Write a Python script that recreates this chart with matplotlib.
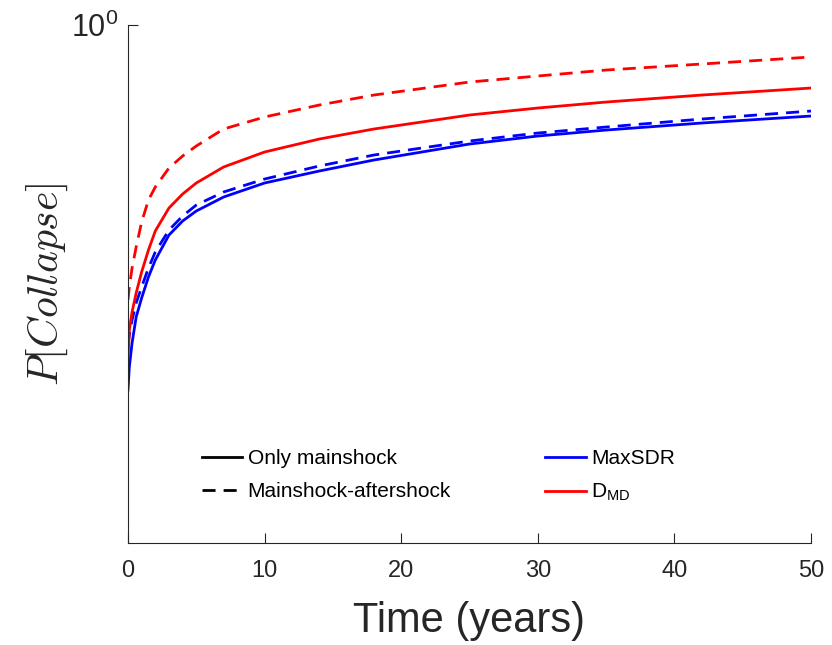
import matplotlib
matplotlib.use("Agg")
import matplotlib.pyplot as plt
from matplotlib.lines import Line2D

plt.rcParams['font.family'] = ['Liberation Sans', 'DejaVu Sans']
plt.rcParams['mathtext.fontset'] = 'cm'

# collapse probability vs. time for each damage measure
time_years = [0, 0.1, 0.3, 0.6, 1, 1.5, 2, 3, 4, 5, 7, 10, 14, 18, 25, 30, 35, 42, 50]
maxsdr_main = [0.3217, 0.3456, 0.3723, 0.4036, 0.4282, 0.4571, 0.4818, 0.5207, 0.5439, 0.5611,
               0.5860, 0.6121, 0.6353, 0.6574, 0.6909, 0.7083, 0.7216, 0.7375, 0.7537]
maxsdr_ms_as = [0.3700, 0.3817, 0.3999, 0.4216, 0.4431, 0.4700, 0.4940, 0.5289, 0.5524, 0.5716,
                0.5952, 0.6197, 0.6453, 0.6677, 0.6974, 0.7149, 0.7284, 0.7467, 0.7655]
dmd_main = [0.3531, 0.3876, 0.4099, 0.4349, 0.4642, 0.4970, 0.5273, 0.5663, 0.5915, 0.6121,
            0.6433, 0.6740, 0.7017, 0.7239, 0.7561, 0.7727, 0.7872, 0.8045, 0.8222]
dmd_ms_as = [0.4255, 0.4431, 0.4700, 0.5017, 0.5422, 0.5806, 0.6045, 0.6413, 0.6656, 0.6867,
             0.7239, 0.7514, 0.7799, 0.8045, 0.8377, 0.8535, 0.8695, 0.8859, 0.9054]

x_ticks = [0, 10, 20, 30, 40, 50]

axis_color = '#262626'
blue = '#0000ff'
red = '#ff0000'
lw = 2.0
dashed = (0, (4.7, 2.9))

fig = plt.figure(figsize=(8.32, 6.45), dpi=100)
ax = fig.add_axes([0.1538, 0.1581, 0.8210, 0.8031])

ax.plot(time_years, maxsdr_main, color=blue, lw=lw)
ax.plot(time_years, maxsdr_ms_as, color=blue, lw=lw, ls=dashed)
ax.plot(time_years, dmd_main, color=red, lw=lw)
ax.plot(time_years, dmd_ms_as, color=red, lw=lw, ls=dashed)

ax.set_yscale('log')
ax.set_xlim(0, 50)
ax.set_ylim(0.2, 1.0)
ax.set_xticks(x_ticks)
ax.set_xticklabels([str(t) for t in x_ticks])
ax.set_yticks([1.0])
ax.set_yticklabels([r'$\mathregular{10^0}$'])
ax.yaxis.set_minor_locator(matplotlib.ticker.NullLocator())

for side in ['top', 'right']:
    ax.spines[side].set_visible(False)
for side in ['left', 'bottom']:
    ax.spines[side].set_color(axis_color)
    ax.spines[side].set_linewidth(0.8)
ax.tick_params(direction='in', length=7, width=0.8, colors=axis_color)
ax.tick_params(axis='x', labelsize=17, pad=12)
ax.tick_params(axis='y', labelsize=22, pad=7)

ax.set_xlabel('Time (years)', fontsize=30, color=axis_color, labelpad=14)
ax.set_ylabel(r'$P[Collapse]$', fontsize=30, color=axis_color, labelpad=1)

style_handles = [Line2D([], [], color='black', lw=lw),
                 Line2D([], [], color='black', lw=lw, ls=dashed)]
leg1 = ax.legend(style_handles, ['Only mainshock', 'Mainshock-aftershock'],
                 loc='upper left', bbox_to_anchor=(0.108, 0.181),
                 frameon=False, fontsize=15, handlelength=1.95,
                 handletextpad=0.25, labelspacing=0.65, borderpad=0,
                 borderaxespad=0)
ax.add_artist(leg1)

measure_handles = [Line2D([], [], color=blue, lw=lw),
                   Line2D([], [], color=red, lw=lw)]
ax.legend(measure_handles, ['MaxSDR', r'$\mathregular{D_{MD}}$'],
          loc='upper left', bbox_to_anchor=(0.611, 0.181),
          frameon=False, fontsize=15, handlelength=1.95,
          handletextpad=0.25, labelspacing=0.65, borderpad=0,
          borderaxespad=0)

fig.savefig('out.png', dpi=100)
